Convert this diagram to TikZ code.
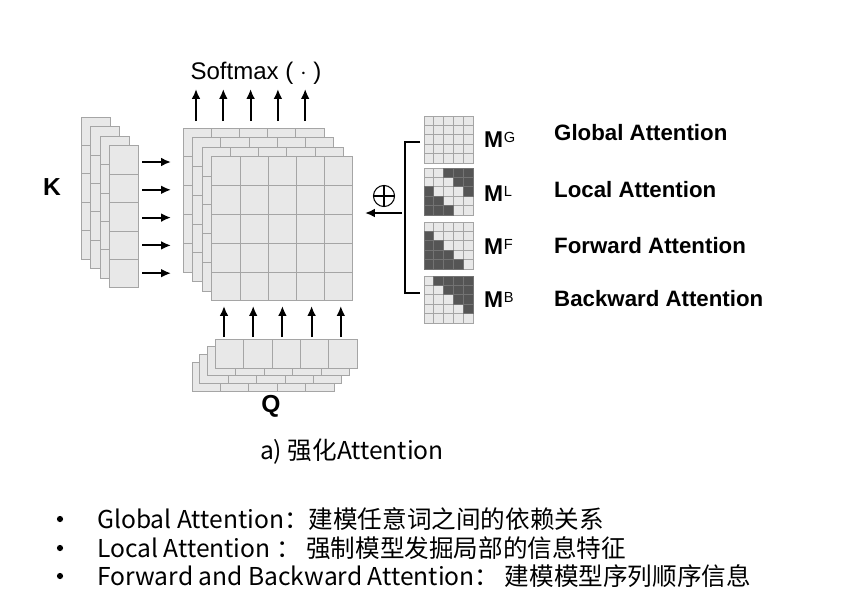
\documentclass[tikz,border=0pt]{standalone}
\usepackage{fontspec}
\setmainfont{Liberation Sans}
\newfontfamily\cjk{Noto Sans CJK SC}
\usetikzlibrary{arrows.meta,positioning}
\definecolor{gridfill}{RGB}{232,232,232}
\definecolor{gridline}{RGB}{165,165,165}
\definecolor{maskdark}{RGB}{85,85,85}
% one layer of cells: x, y, cols, rows, cell width, cell height
\newcommand{\cellgrid}[6]{%
  \foreach \ci in {1,...,#3}{\foreach \ri in {1,...,#4}{%
    \filldraw[gridcell] ({#1+(\ci-1)*#5},{#2+(\ri-1)*#6}) rectangle ++(#5,#6);}}}
% dark cells of a 5x5 mask: x, y, list of col/row
\newcommand{\maskcells}[3]{%
  \foreach \ci/\ri in {#3}{%
    \filldraw[darkcell] ({#1+(\ci-1)*9.8},{#2+(\ri-1)*9.4}) rectangle ++(9.8,9.4);}}
% mask name with small raised letter
\newcommand{\maskname}[1]{\textbf{M}\kern0.5pt\raisebox{4.2pt}{\fontsize{12.5}{13}\selectfont #1}}

\begin{document}
\begin{tikzpicture}[x=0.03cm,y=-0.03cm,
  gridcell/.style={fill=gridfill,draw=gridline,line width=0.6pt},
  darkcell/.style={fill=maskdark,draw=gridline!70!black,line width=0.6pt},
  flow/.style={-{Latex[length=8.5pt,width=7.5pt]},line width=1.6pt},
  lbl/.style={font=\fontsize{19}{22}\selectfont\bfseries,anchor=west,inner sep=0pt},
  mlbl/.style={font=\fontsize{19.5}{22}\selectfont,anchor=west,inner sep=0pt},
  note/.style={font=\cjk\fontsize{21}{25}\selectfont,anchor=west,inner sep=0pt}
]
  \useasboundingbox (0,0) rectangle (866,612);
  % K stack
  \foreach \k in {0,...,3}{\cellgrid{81+9.5*\k}{117+9.6*\k}{1}{5}{29}{28.4}}
  \node[font=\fontsize{21}{22}\selectfont\bfseries] (klbl) at (52,187) {K};
  % attention score stack
  \foreach \k in {0,...,3}{\cellgrid{183+9.6*\k}{128+9.6*\k}{5}{5}{28.2}{28.8}}
  % Q stack
  \foreach \k in {0,...,3}{\cellgrid{192+7.7*\k}{362-7.7*\k}{5}{1}{28.4}{29}}
  \node[font=\fontsize{21}{22}\selectfont\bfseries] (qlbl) at (271,406) {Q};
  % K rows into scores
  \foreach \i in {0,...,4}{
    \coordinate (kin\i) at (142,162+27.8*\i);
    \coordinate (kout\i) at (171,162+27.8*\i);
    \draw[flow] (kin\i) -- (kout\i);}
  % Q columns into scores
  \foreach \i in {0,...,4}{
    \coordinate (qin\i) at (224+29.2*\i,337);
    \coordinate (qout\i) at (224+29.2*\i,306);
    \draw[flow] (qin\i) -- (qout\i);}
  % scores out to softmax
  \foreach \i in {0,...,4}{
    \coordinate (sin\i) at (196+27.3*\i,121);
    \coordinate (sout\i) at (196+27.3*\i,89);
    \draw[flow] (sin\i) -- (sout\i);}
  \node[font=\fontsize{20.5}{22}\selectfont] (soft) at (256,73) {Softmax ( $\cdot$ )};
  % masks
  \cellgrid{424}{116}{5}{5}{9.8}{9.4}
  \cellgrid{424}{168}{5}{5}{9.8}{9.4}
  \maskcells{424}{168}{3/1,4/1,5/1,4/2,5/2,1/3,5/3,1/4,2/4,1/5,2/5,3/5}
  \cellgrid{424}{222}{5}{5}{9.8}{9.4}
  \maskcells{424}{222}{1/2,1/3,2/3,1/4,2/4,3/4,1/5,2/5,3/5,4/5}
  \cellgrid{424}{276}{5}{5}{9.8}{9.4}
  \maskcells{424}{276}{2/1,3/1,4/1,5/1,3/2,4/2,5/2,4/3,5/3,5/4}
  \node[mlbl] (mg) at (484,140) {\maskname{G}};
  \node[mlbl] (ml) at (484,194) {\maskname{L}};
  \node[mlbl] (mf) at (484,247) {\maskname{F}};
  \node[mlbl] (mb) at (484,300) {\maskname{B}};
  \node[lbl] (glob) at (554,133) {Global Attention};
  \node[lbl] (loc) at (554,190) {Local Attention};
  \node[lbl] (fwd) at (554,246) {Forward Attention};
  \node[lbl] (bwd) at (554,299) {Backward Attention};
  % bracket and sum
  \coordinate (btop) at (420,142);
  \coordinate (bbot) at (420,293);
  \draw[line width=1.2pt] (btop) -| (405,293) -- (bbot);
  \node[circle,draw,line width=0.9pt,minimum size=18pt,inner sep=0pt] (sum) at (384,196) {};
  \draw[line width=0.9pt] (sum.north) -- (sum.south) (sum.west) -- (sum.east);
  \coordinate (mskout) at (402,213);
  \coordinate (mskin) at (365,213);
  \draw[flow] (mskout) -- (mskin);
  % caption and notes
  \node[note,anchor=center] (cap) at (352,452) {a) 强化Attention};
  \foreach \y/\nm in {519/d1,548/d2,576/d3}
    \fill (60,\y) circle (3.1) coordinate (\nm);
  \node[note] (n1) at (97,519) {Global Attention：建模任意词之间的依赖关系};
  \node[note] (n2) at (97,548) {Local Attention ： 强制模型发掘局部的信息特征};
  \node[note] (n3) at (97,576) {Forward and Backward Attention： 建模模型序列顺序信息};
\end{tikzpicture}
\end{document}
